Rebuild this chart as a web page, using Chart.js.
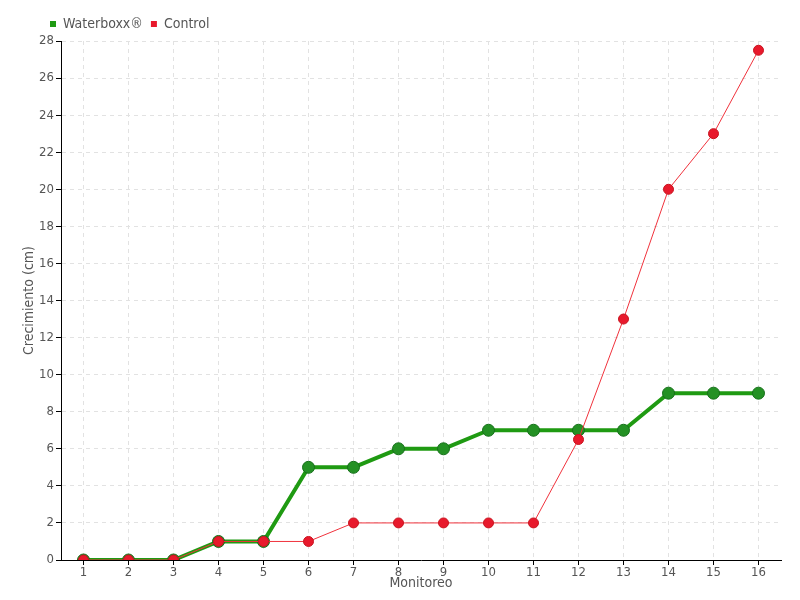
<!DOCTYPE html>
<html>
<head>
<meta charset="utf-8">
<script src="https://cdn.jsdelivr.net/npm/chart.js@4/dist/chart.umd.min.js"></script>
<style>
  html, body { margin: 0; padding: 0; background: #fff; }
  #wrap { width: 800px; height: 600px; }
</style>
</head>
<body>
<div id="wrap"><canvas id="growthChart" width="800" height="600"></canvas></div>
<script>
const monitoreo = ['1','2','3','4','5','6','7','8','9','10','11','12','13','14','15','16'];
const waterboxx = [0, 0, 0, 1, 1, 5, 5, 6, 6, 7, 7, 7, 7, 9, 9, 9];
const control = [0, 0, 0, 1, 1, 1, 2, 2, 2, 2, 2, 6.5, 13, 20, 23, 27.5];
const yMax = 28;
const yStep = 2;

const fontFamily = "'Liberation Sans Narrow', 'DejaVu Sans Condensed', sans-serif";
const textColor = '#555';

// move the legend to the right so it starts near the plot area
const legendShift = {
    id: 'legendShift',
    afterLayout(chart) {
        chart.legend.left += 42;
    }
};

const ctx = document.getElementById('growthChart').getContext('2d');

new Chart(ctx, {
    type: 'line',
    data: {
        labels: monitoreo,
        datasets: [{
            label: 'Waterboxx®',
            data: waterboxx,
            borderColor: '#1f9a12',
            backgroundColor: '#1f9a12',
            borderWidth: 4,
            pointRadius: 6,
            pointBackgroundColor: '#249124',
            pointBorderColor: '#16701a',
            pointBorderWidth: 1,
            tension: 0,
            fill: false,
            order: 1
        }, {
            label: 'Control',
            data: control,
            borderColor: '#f0323c',
            backgroundColor: '#e8192c',
            borderWidth: 1,
            pointRadius: 5,
            pointBackgroundColor: '#e8192c',
            pointBorderColor: '#c8141f',
            pointBorderWidth: 1,
            tension: 0,
            fill: false,
            order: 0
        }]
    },
    options: {
        responsive: false,
        animation: false,
        layout: { padding: { top: 9, right: 19, left: 0, bottom: 0 } },
        plugins: {
            legend: {
                position: 'top',
                align: 'start',
                labels: {
                    boxWidth: 6,
                    boxHeight: 6,
                    padding: 8,
                    color: textColor,
                    font: { family: fontFamily, size: 14 },
                    generateLabels: (chart) => chart.data.datasets.map((ds, i) => ({
                        text: ds.label,
                        fillStyle: ds.backgroundColor,
                        strokeStyle: ds.backgroundColor,
                        fontColor: textColor,
                        lineWidth: 0,
                        datasetIndex: i
                    }))
                }
            },
            tooltip: { enabled: false }
        },
        scales: {
            x: {
                offset: true,
                title: {
                    display: true,
                    text: 'Monitoreo',
                    color: textColor,
                    font: { family: fontFamily, size: 14 },
                    padding: { top: 0, bottom: 8 }
                },
                grid: {
                    offset: false,
                    color: '#e2e2e2',
                    tickColor: '#000',
                    tickLength: 5,
                    tickBorderDash: []
                },
                border: { color: '#000', width: 1, dash: [4, 4] },
                ticks: {
                    color: textColor,
                    font: { family: fontFamily, size: 13 },
                    padding: 0,
                    maxRotation: 0
                },
                afterFit: (scale) => { scale.height = 40; }
            },
            y: {
                min: 0,
                max: yMax,
                title: {
                    display: true,
                    text: 'Crecimiento (cm)',
                    color: textColor,
                    font: { family: fontFamily, size: 14 },
                    padding: { top: 21, bottom: 0 }
                },
                grid: {
                    color: '#e2e2e2',
                    tickColor: '#000',
                    tickLength: 5,
                    tickBorderDash: []
                },
                border: { color: '#000', width: 1, dash: [4, 4] },
                ticks: {
                    stepSize: yStep,
                    color: textColor,
                    font: { family: fontFamily, size: 13 },
                    padding: 2
                },
                afterFit: (scale) => { scale.width = 61; }
            }
        },
        elements: { line: { borderJoinStyle: 'round' } }
    },
    plugins: [legendShift]
});
</script>
</body>
</html>
